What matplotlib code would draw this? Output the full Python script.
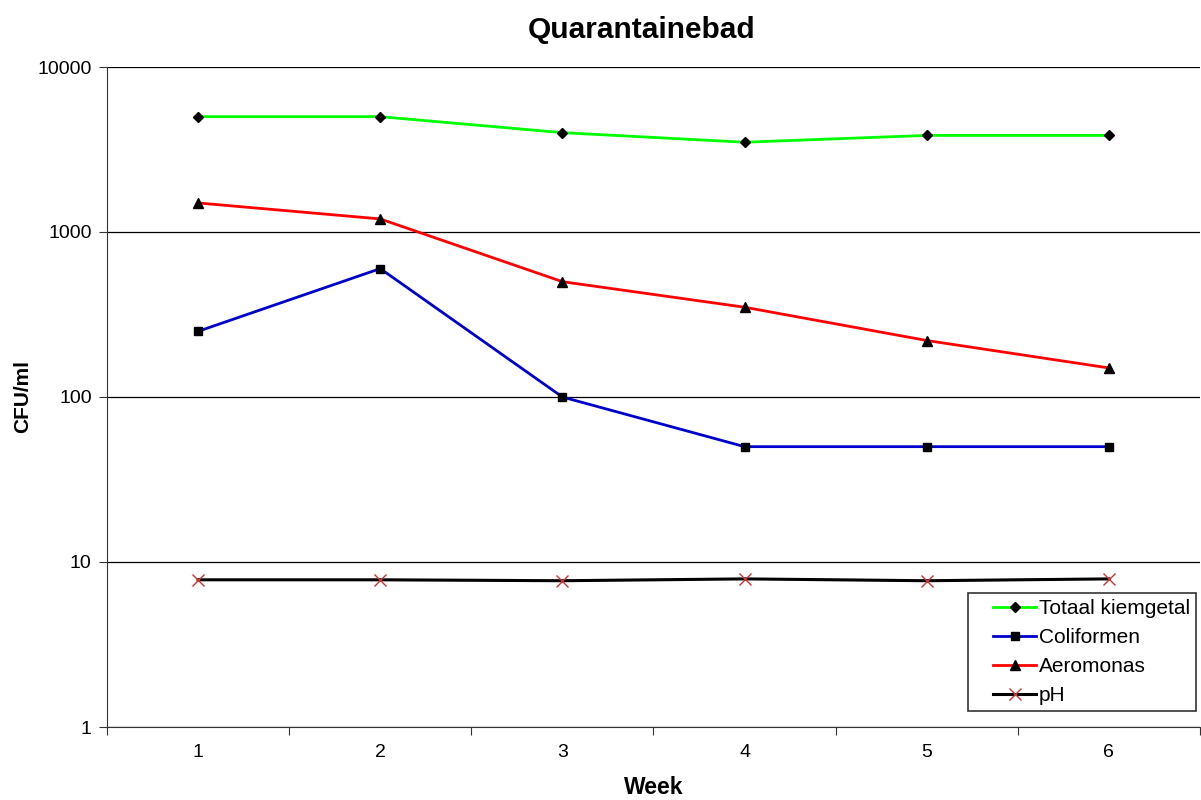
import numpy as np
import matplotlib.pyplot as plt
from matplotlib.lines import Line2D
from matplotlib.legend_handler import HandlerLine2D
from matplotlib.ticker import FixedLocator, NullFormatter, FixedFormatter

plt.rcParams['font.family'] = ['Liberation Sans', 'DejaVu Sans']

weeks = [1, 2, 3, 4, 5, 6]
totaal = [5000, 5000, 4000, 3500, 3850, 3850]
coliformen = [250, 600, 100, 50, 50, 50]
aeromonas = [1500, 1200, 500, 350, 220, 150]
ph = [7.8, 7.8, 7.7, 7.9, 7.7, 7.9]

fig = plt.figure(figsize=(12.01, 8.0), dpi=100)
ax = fig.add_axes([107 / 1201, 1 - 727 / 800, (1200 - 107) / 1201, (727 - 67) / 800])

ax.plot(weeks, totaal, color='#00ff00', lw=2, marker='D', ms=5,
        mfc='black', mec='black', label='Totaal kiemgetal')
ax.plot(weeks, coliformen, color='#0000cc', lw=2, marker='s', ms=6,
        mfc='black', mec='black', label='Coliformen')
ax.plot(weeks, aeromonas, color='#ff0000', lw=2, marker='^', ms=7,
        mfc='black', mec='black', label='Aeromonas')
ax.plot(weeks, ph, color='black', lw=2.2, marker='x', ms=8,
        mec='#cc3333', mew=1, label='pH')

ax.set_yscale('log')
ax.set_ylim(1, 10000)
ax.set_xlim(0.5, 6.5)

yt = [1, 10, 100, 1000, 10000]
ax.yaxis.set_major_locator(FixedLocator(yt))
ax.yaxis.set_major_formatter(FixedFormatter([str(v) for v in yt]))
ax.yaxis.set_minor_locator(FixedLocator([]))
ax.grid(axis='y', which='major', color='black', lw=0.9)

ax.xaxis.set_major_locator(FixedLocator(np.arange(0.5, 7.0, 1.0)))
ax.xaxis.set_major_formatter(NullFormatter())
ax.xaxis.set_minor_locator(FixedLocator(weeks))
ax.xaxis.set_minor_formatter(FixedFormatter([str(w) for w in weeks]))
ax.tick_params(axis='x', which='major', direction='out', length=6, color='#333333')
ax.tick_params(axis='x', which='minor', length=0, pad=12, labelsize=14)
ax.tick_params(axis='y', direction='out', length=6, labelsize=14, pad=5, color='#333333')

for s in ['top', 'right']:
    ax.spines[s].set_visible(False)
ax.spines['left'].set_color('#333333')
ax.spines['bottom'].set_color('#333333')

ax.set_xlabel('Week', fontsize=16.5, fontweight='bold')
ax.xaxis.set_label_coords(0.5, -0.074)
ax.set_ylabel('CFU/ml', fontsize=15, fontweight='bold')
ax.yaxis.set_label_coords(-0.0686, 0.5)
fig.text(0.534, 0.963, 'Quarantainebad', fontsize=21.5, fontweight='bold',
         ha='center', va='center')

leg = ax.legend(loc='lower right', bbox_to_anchor=(0.9963, 0.024), fontsize=15,
                frameon=True, fancybox=False, borderpad=0.3, labelspacing=0.48,
                handlelength=3.0, handletextpad=0.1, borderaxespad=0,
                handler_map={Line2D: HandlerLine2D(xpad=0.9)})
leg.get_frame().set_edgecolor('black')
leg.get_frame().set_linewidth(1.2)

fig.savefig('out.png', dpi=100)
